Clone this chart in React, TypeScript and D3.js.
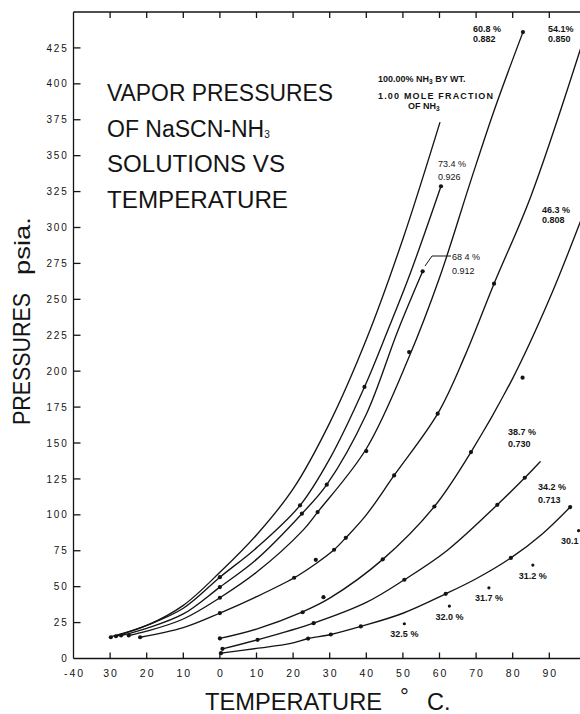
import React from "react";
import * as d3 from "d3";

const W = 580;
const H = 714;

// Temperature axis (°C) — the printed scale omits the minus signs below -40
const tempTicks = [-40, -30, -20, -10, 0, 10, 20, 30, 40, 50, 60, 70, 80, 90];
const tempTickLabels = ["-40", "30", "20", "10", "0", "10", "20", "30", "40", "50", "60", "70", "80", "90"];

// Pressure axis (psia)
const pressureTicks = [0, 25, 50, 75, 100, 125, 150, 175, 200, 225, 250, 275, 300, 325, 350, 375, 400, 425];
const pressureTickLabels = ["0", "25", "50", "75", "100", "125", "150", "175", "200", "225", "250", "275", "300", "325", "350", "375", "400", "425"];

// Smoothed curves, [temperature °C, pressure psia]
const curve100: [number, number][] = [[-30, 15], [-20, 23], [-10, 37], [0, 60], [10, 86], [20, 118], [30, 164], [40, 222], [50, 292], [60.1, 373]];
const curve734: [number, number][] = [[-28.4, 15.5], [-20, 23], [-10, 35], [0, 56.6], [10, 77], [21.9, 106.6], [30, 139], [39.5, 189], [45.8, 228], [52, 268], [60.4, 328.7]];
const curve684: [number, number][] = [[-27, 16], [-20, 21], [-10, 31], [0, 49.7], [10, 69], [22.4, 100.8], [29.2, 121], [40, 170], [48.6, 228], [55.4, 269.5]];
const curve608: [number, number][] = [[-24.9, 16], [-20, 19], [-10, 27.5], [0, 42.3], [10, 60], [22.6, 89], [26.7, 101.9], [40, 146], [51.7, 210], [60, 265], [68.6, 333], [75, 382], [82.8, 436]];
const curve541: [number, number][] = [[-21.8, 14.8], [-10, 21.5], [0, 31.6], [10, 43], [20.3, 56.2], [26.2, 66], [31.2, 75.7], [34.4, 84], [40, 100], [47.6, 127.4], [59.5, 170.4], [67, 211], [74.9, 260.9], [85, 322], [100, 436]];
const curve463: [number, number][] = [[0, 14], [10, 20.5], [22.6, 32.5], [30, 42], [44.5, 69], [58.6, 105.8], [68.6, 143.7], [80, 195], [90, 250], [100, 314]];
const curve387: [number, number][] = [[0.7, 6.7], [10.3, 13], [25.6, 24.6], [40, 39], [50.4, 54.8], [62, 75], [75.8, 107], [83.3, 125.8], [87.5, 137]];
const curve342: [number, number][] = [[0.3, 3.7], [10, 7], [19.4, 10.5], [24.1, 13.9], [30.3, 16.7], [38.5, 22.3], [50, 31.5], [61.7, 45], [70, 55.5], [79.5, 70], [88, 86.5], [95.7, 105.4]];

// Measured points on each curve
const dots100: [number, number][] = [[-29.8, 14.8]];
const dots734: [number, number][] = [[-28.4, 15.5], [0, 56.6], [21.9, 106.6], [39.5, 189], [60.4, 328.7]];
const dots684: [number, number][] = [[-27, 16], [0, 49.7], [22.4, 100.8], [29.2, 121], [55.4, 269.5]];
const dots608: [number, number][] = [[-24.9, 16], [0, 42.3], [26.7, 101.9], [40, 144.4], [51.7, 213.3], [82.8, 436]];
const dots541: [number, number][] = [[-21.8, 14.8], [0, 31.6], [20.3, 56.2], [26.2, 68.7], [31.2, 75.7], [34.4, 84], [47.6, 127.4], [59.5, 170.4], [74.9, 260.9]];
const dots463: [number, number][] = [[0, 14], [22.6, 32.2], [28.3, 42.7], [44.5, 69], [58.6, 105.8], [68.6, 143.7], [82.7, 195.5]];
const dots387: [number, number][] = [[0.7, 6.7], [10.3, 13], [25.6, 24.6], [50.4, 54.8], [75.8, 107], [83.3, 125.8]];
const dots342: [number, number][] = [[0.3, 3.7], [24.1, 13.9], [30.3, 16.7], [38.5, 22.3], [61.7, 45], [79.5, 70], [95.7, 105.4]];

// Saturated solutions (solubility limit), [temperature, pressure]
const saturationPoints: [number, number][] = [[50.4, 24.2], [62.7, 36.5], [73.5, 49.2], [85.5, 65], [98, 89]];
const saturationLabels = ["32.5 %", "32.0 %", "31.7 %", "31.2 %", "30.1"];

// Concentration labels: weight % NH3 and mole fraction NH3
const weightPercent = ["60.8 %", "54.1%", "73.4 %", "68 4 %", "46.3 %", "38.7 %", "34.2 %"];
const moleFraction = ["0.882", "0.850", "0.926", "0.912", "0.808", "0.730", "0.713"];

const curves = [curve100, curve734, curve684, curve608, curve541, curve463, curve387, curve342];
const dotSets = [dots100, dots734, dots684, dots608, dots541, dots463, dots387, dots342];

// Label placement: left x, first baseline, second-line gap, weight
const labelLayout = [
  { x: 473, y: 31.5, gap: 10, bold: true },
  { x: 548, y: 31.5, gap: 10, bold: true },
  { x: 438, y: 167, gap: 13, bold: false },
  { x: 452, y: 260, gap: 14, bold: false },
  { x: 542, y: 213, gap: 10, bold: true },
  { x: 508, y: 435, gap: 11.5, bold: true },
  { x: 538, y: 490, gap: 13, bold: true },
];

const INK = "#141414";
const FONT = "'Liberation Sans', Arial, sans-serif";

export default function App() {
  const x = d3.scaleLinear().domain([-40, 100]).range([73.5, 585.9]);
  const y = d3.scaleLinear().domain([0, 450]).range([658.5, 12]);

  const line = d3
    .line<[number, number]>()
    .x((d) => x(d[0]))
    .y((d) => y(d[1]))
    .curve(d3.curveCatmullRom.alpha(0.5));

  const left = x(-40);
  const top = y(450);
  const bottom = y(0);

  return (
    <svg
      width={W}
      height={H}
      viewBox={`0 0 ${W} ${H}`}
      style={{ position: "absolute", left: 0, top: 0, background: "#fff" }}
      fontFamily={FONT}
    >
      <rect x={0} y={0} width={W} height={H} fill="#fff" />

      {/* frame */}
      <g stroke={INK} fill="none">
        <line x1={left} y1={top} x2={left} y2={bottom} strokeWidth={1.3} />
        <line x1={left} y1={top} x2={W} y2={top} strokeWidth={1.4} />
        <line x1={left} y1={bottom} x2={W} y2={bottom} strokeWidth={1.6} />
      </g>

      {/* pressure ticks */}
      <g>
        {pressureTicks.map((p, i) => (
          <g key={p}>
            {p > 0 && <line x1={left} x2={left + 7} y1={y(p)} y2={y(p)} stroke={INK} strokeWidth={1.3} />}
            <text x={left - 5} y={y(p) + 3.6} textAnchor="end" fontSize={10} letterSpacing={1.8} fill={INK}>
              {pressureTickLabels[i]}
            </text>
          </g>
        ))}
      </g>

      {/* temperature ticks */}
      <g>
        {tempTicks.map((t, i) => (
          <g key={t}>
            {t > -40 && (
              <>
                <line x1={x(t)} x2={x(t)} y1={bottom} y2={bottom - 6} stroke={INK} strokeWidth={1.3} />
                <line x1={x(t)} x2={x(t)} y1={top} y2={top + 6} stroke={INK} strokeWidth={1.3} />
              </>
            )}
            <text x={x(t) + 1} y={bottom + 18} textAnchor="middle" fontSize={10.5} letterSpacing={2} fill={INK}>
              {tempTickLabels[i]}
            </text>
          </g>
        ))}
      </g>

      {/* curves */}
      <g fill="none" stroke={INK} strokeWidth={1.35} strokeLinecap="round">
        {curves.map((c, i) => (
          <path key={i} d={line(c) ?? ""} />
        ))}
      </g>

      {/* measured points */}
      <g fill={INK}>
        {dotSets.map((set, i) =>
          set.map((d, j) => <circle key={`${i}-${j}`} cx={x(d[0])} cy={y(d[1])} r={2.1} />)
        )}
        {saturationPoints.map((d, j) => (
          <circle key={`s-${j}`} cx={x(d[0])} cy={y(d[1])} r={1.6} />
        ))}
      </g>

      {/* saturation labels, kept inside the right edge */}
      <g fontSize={9} fontWeight="bold" fill={INK}>
        {saturationPoints.map((d, j) => (
          <text key={j} x={Math.min(x(d[0]) - 14, W - 19)} y={y(d[1]) + 13.5}>
            {saturationLabels[j]}
          </text>
        ))}
      </g>

      {/* concentration labels */}
      <g fill={INK} fontSize={9}>
        {labelLayout.map((l, i) => (
          <g key={i} fontWeight={l.bold ? "bold" : "normal"}>
            <text x={l.x} y={l.y}>{weightPercent[i]}</text>
            <text x={l.x} y={l.y + l.gap}>{moleFraction[i]}</text>
          </g>
        ))}
      </g>

      {/* leader for the 68.4 % curve */}
      <path d="M451,256 L432,256 L425,266" fill="none" stroke={INK} strokeWidth={1} />

      {/* pure ammonia note */}
      <g fill={INK} fontSize={9} fontWeight="bold">
        <text x={378} y={82}>
          100.00% NH<tspan fontSize={6.5} dy={2}>3</tspan>
          <tspan dy={-2}> BY WT.</tspan>
        </text>
        <text x={378} y={99} textLength={115} lengthAdjust="spacing">1.00 MOLE FRACTION</text>
        <text x={408} y={109}>
          OF NH<tspan fontSize={6.5} dy={2}>3</tspan>
        </text>
      </g>

      {/* title */}
      <g fill={INK} fontSize={23}>
        <text x={107} y={101} textLength={226} lengthAdjust="spacingAndGlyphs">VAPOR PRESSURES</text>
        <text x={107} y={137}>
          OF NaSCN-NH<tspan fontSize={10} dy={1}>3</tspan>
        </text>
        <text x={107} y={172} textLength={178} lengthAdjust="spacingAndGlyphs">SOLUTIONS VS</text>
        <text x={107} y={208} textLength={181} lengthAdjust="spacingAndGlyphs">TEMPERATURE</text>
      </g>

      {/* axis titles */}
      <g fill={INK}>
        <text x={205} y={710} fontSize={23.5} textLength={177} lengthAdjust="spacingAndGlyphs">TEMPERATURE</text>
        <text x={400} y={704} fontSize={22}>°</text>
        <text x={427} y={710} fontSize={23.5}>C.</text>
        <text transform="translate(30,425) rotate(-90)" fontSize={24} textLength={132} lengthAdjust="spacingAndGlyphs">
          PRESSURES
        </text>
        <text transform="translate(30,275) rotate(-90)" fontSize={22} textLength={58} lengthAdjust="spacingAndGlyphs">
          psia.
        </text>
      </g>
    </svg>
  );
}
